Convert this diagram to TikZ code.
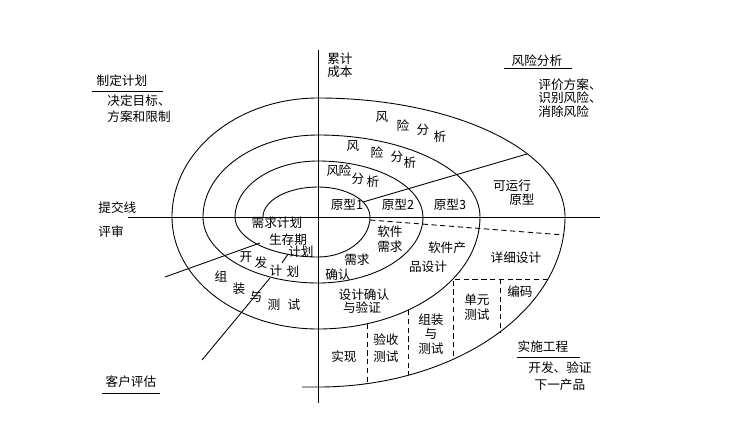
\documentclass[tikz,border=0pt]{standalone}
\usepackage{fontspec}
\setmainfont{Noto Sans CJK SC}
\usepackage{tikz}
\usetikzlibrary{calc,positioning}

\tikzset{
  lbl/.style={inner sep=0pt, font=\fontsize{7.2}{7.7}\selectfont},
  dsh/.style={dash pattern=on 3pt off 2pt},
}

\begin{document}
\begin{tikzpicture}[x=0.02cm, y=0.02cm, line width=0.5pt, every node/.style={lbl}]
\useasboundingbox (-318,-213) rectangle (430,217);

%%%%%%%%%%%%%%% axes
\coordinate (top) at (0,167);
\coordinate (bot) at (0,-186);
\coordinate (lft) at (-190,0);
\coordinate (rgt) at (282,0);
\draw (top) -- (bot);
\draw (lft) -- (rgt);

%%%%%%%%%%%%%%% spiral
\coordinate (s0) at (-55,0);
\coordinate (s1) at (-16,-170);
\draw (s0) arc[start angle=180, end angle=90, x radius=55, y radius=30]
  arc[start angle=90, end angle=0, x radius=52, y radius=30]
  arc[start angle=0, end angle=-90, x radius=52, y radius=40]
  arc[start angle=-90, end angle=-180, x radius=83, y radius=40]
  arc[start angle=180, end angle=90, x radius=83, y radius=56]
  arc[start angle=90, end angle=0, x radius=105, y radius=56]
  arc[start angle=0, end angle=-90, x radius=105, y radius=66]
  arc[start angle=-90, end angle=-180, x radius=115, y radius=66]
  arc[start angle=180, end angle=90, x radius=115, y radius=82]
  arc[start angle=90, end angle=0, x radius=162, y radius=82]
  arc[start angle=0, end angle=-90, x radius=162, y radius=112]
  arc[start angle=-90, end angle=-180, x radius=146, y radius=112]
  arc[start angle=180, end angle=90, x radius=146, y radius=119]
  arc[start angle=90, end angle=0, x radius=247, y radius=119]
  arc[start angle=0, end angle=-90, x radius=247, y radius=170]
  -- (s1);

%%%%%%%%%%%%%%% quadrant lines
\coordinate (p1) at (45,15);
\coordinate (p2) at (209,63);
\draw (p1) -- (p2);
\coordinate (d1) at (52,-3);
\coordinate (d2) at (246,-18);
\draw[dsh] (d1) -- (d2);
\coordinate (b1) at (230,-62);
\coordinate (b2) at (135,-62);
\coordinate (b3) at (135,-142);
\draw[dsh] (b1) -- (b2) -- (b3);
\coordinate (b4) at (182,-62);
\coordinate (b5) at (182,-115);
\draw[dsh] (b4) -- (b5);
\coordinate (b6) at (90,-93);
\coordinate (b7) at (90,-158);
\draw[dsh] (b6) -- (b7);
\coordinate (b8) at (49,-107);
\coordinate (b9) at (49,-167);
\draw[dsh] (b8) -- (b9);

%%%%%%%%%%%%%%% left leaders
\coordinate (l1) at (-58,-26);
\coordinate (l2) at (-153,-60);
\draw (l1) -- (l2);
\coordinate (l3) at (-30,-37);
\coordinate (l4) at (-36,-46);
\draw (l3) -- (l4);
\coordinate (l5) at (-48,-61);
\coordinate (l6) at (-116,-143);
\draw (l5) -- (l6);

%%%%%%%%%%%%%%% corner labels
\node (plan) at (-196,136) {制定计划};
\draw (-226,126) -- (-155,126);
\node[anchor=west] (goal1) at (-211,116) {决定目标、};
\node[anchor=west] (goal2) at (-211,100) {方案和限制};

\node (cost1) at (22,158) {累计};
\node (cost2) at (22,145) {成本};

\node (risk) at (219,156) {风险分析};
\draw (186,149) -- (254,149);
\node[anchor=west] (eval1) at (220,132) {评价方案、};
\node[anchor=west] (eval2) at (220,119) {识别风险、};
\node[anchor=west] (eval3) at (220,105) {消除风险};

\node[anchor=west] (submit) at (-220,9) {提交线};
\node[anchor=west] (review) at (-220,-15) {评审};

\node (cust) at (-187,-165) {客户评估};
\draw (-216,-176) -- (-158,-176);

\node (eng) at (225,-130) {实施工程};
\draw (199,-140) -- (262,-140);
\node (next1) at (242,-151) {开发、验证};
\node (next2) at (242,-168) {下一产品};

%%%%%%%%%%%%%%% risk analysis rings
\node (ra1) at (64,100) {风};
\node (ra2) at (85,91) {险};
\node (ra3) at (105,87) {分};
\node (ra4) at (122,80) {析};

\node (rb1) at (35,71) {风};
\node (rb2) at (59,64) {险};
\node (rb3) at (79,60) {分};
\node (rb4) at (92,54) {析};

\node (rc1) at (15,46) {风};
\node (rc2) at (27,46) {险};
\node (rc3) at (40,38) {分};
\node (rc4) at (55,35) {析};

%%%%%%%%%%%%%%% prototypes
\node (proto1) at (29,12) {原型1};
\node (proto2) at (80,12) {原型2};
\node (proto3) at (132,12) {原型3};
\node (run1) at (194,31) {可运行};
\node (run2) at (204,17) {原型};

%%%%%%%%%%%%%%% engineering quadrant
\node (sw1) at (72,-15) {软件};
\node (sw2) at (72,-30) {需求};
\node (rq1) at (39,-43) {需求};
\node (rq2) at (20,-58) {确认};
\node (pd1) at (129,-31) {软件产};
\node (pd2) at (110,-50) {品设计};
\node (dd) at (198,-41) {详细设计};
\node (code) at (202,-75) {编码};
\node (ut1) at (159,-83) {单元};
\node (ut2) at (159,-98) {测试};
\node (it1) at (113,-103) {组装};
\node (it2) at (113,-117) {与};
\node (it3) at (113,-132) {测试};
\node (dv1) at (46,-78) {设计确认};
\node (dv2) at (44,-91) {与验证};
\node (impl) at (26,-140) {实现};
\node (at1) at (68,-123) {验收};
\node (at2) at (68,-140) {测试};

%%%%%%%%%%%%%%% planning quadrant
\node (req) at (-41,-6) {需求计划};
\node (life1) at (-30,-23) {生存期};
\node (life2) at (-17,-35) {计划};

\node (dev1) at (-72,-40) {开};
\node (dev2) at (-57,-46) {发};
\node (dev3) at (-42,-54) {计};
\node (dev4) at (-25,-55) {划};

\node (asm1) at (-97,-60) {组};
\node (asm2) at (-79,-72) {装};
\node (asm3) at (-62,-80) {与};
\node (asm4) at (-44,-88) {测};
\node (asm5) at (-24,-88) {试};

\end{tikzpicture}
\end{document}
